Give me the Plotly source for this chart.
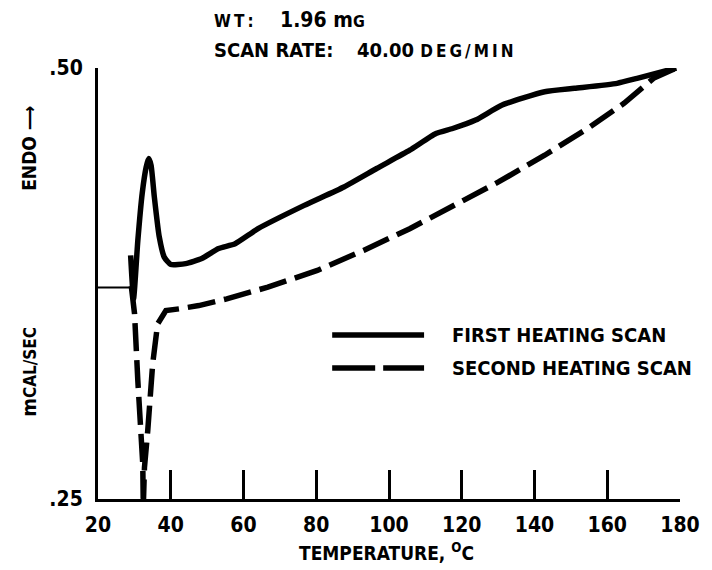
import plotly.graph_objects as go

# ---- data ----
first_T = [28.97, 29.78, 30.95, 32.15, 33.23, 33.94, 34.59, 35.49, 36.85, 38.21, 40.03,
           44.10, 48.53, 53.15, 57.7, 64.0, 76.7, 87.6, 96.6, 105.7, 112.9, 117.5,
           123.8, 131.1, 142.8, 151.0, 162.7, 168.2, 179.0]
first_y = [0.3913, 0.3663, 0.4000, 0.4273, 0.4424, 0.4475, 0.4436, 0.4252, 0.4019, 0.3903, 0.3860,
           0.3865, 0.3895, 0.3953, 0.3981, 0.4068, 0.4203, 0.4310, 0.4417, 0.4523, 0.4620, 0.4649,
           0.4698, 0.4785, 0.4862, 0.4882, 0.4911, 0.4940, 0.5000]

second_T = [29.16, 30.05, 30.95, 31.88, 32.31, 32.45, 32.77, 33.67, 35.03, 36.39, 38.67,
            42.28, 47.72, 55.4, 66.7, 80.3, 93.0, 105.7, 117.5, 130.1, 142.8, 154.6,
            164.6, 172.7, 179.0]
second_y = [0.3734, 0.3574, 0.3186, 0.2895, 0.2701, 0.2450, 0.2682, 0.2895, 0.3283, 0.3516, 0.3593,
            0.3603, 0.3622, 0.3661, 0.3729, 0.3826, 0.3942, 0.4068, 0.4203, 0.4339, 0.4494, 0.4649,
            0.4795, 0.4940, 0.5000]

baseline_T = [20.0, 29.0]
baseline_y = [0.3727, 0.3727]

x_ticks = [20, 40, 60, 80, 100, 120, 140, 160, 180]
y_ticks = [0.25, 0.50]
y_ticktext = [".25", ".50"]

series_names = ["FIRST HEATING SCAN", "SECOND HEATING SCAN"]

FONT = "DejaVu Sans Condensed"
W = "bold"
TS = "\u2009"  # thin space for the letter-spaced small caps

fig = go.Figure()
fig.add_trace(go.Scatter(x=baseline_T, y=baseline_y, mode="lines",
                         line=dict(color="black", width=2), showlegend=False, hoverinfo="skip"))
fig.add_trace(go.Scatter(x=first_T, y=first_y, mode="lines", name=series_names[0],
                         line=dict(color="black", width=5.5, shape="spline", smoothing=0.5),
                         showlegend=False))
fig.add_trace(go.Scatter(x=second_T, y=second_y, mode="lines", name=series_names[1],
                         line=dict(color="black", width=5.5, dash="28px,9px"), showlegend=False))

fig.update_layout(
    width=712, height=570,
    margin=dict(l=98, r=25, t=68, b=71),
    paper_bgcolor="white", plot_bgcolor="white",
    font=dict(family=FONT, color="black", size=20, weight=W),
    showlegend=False,
)
fig.update_xaxes(range=[20, 180], showline=True, linewidth=3, linecolor="black",
                 ticks="inside", ticklen=29, tickwidth=3, tickcolor="black",
                 tickvals=x_ticks, showgrid=False, zeroline=False,
                 tickfont=dict(size=21, family=FONT, weight=W), ticklabelstandoff=5)
fig.update_yaxes(range=[0.25, 0.50], showline=True, linewidth=3, linecolor="black",
                 ticks="inside", ticklen=31, tickwidth=2, tickcolor="black",
                 tickvals=y_ticks, ticktext=y_ticktext, showgrid=False, zeroline=False,
                 tickfont=dict(size=21, family=FONT, weight=W), ticklabelstandoff=8)

L, R, T, B = 98, 687, 68, 499
def px(xp):
    return (xp - L) / (R - L)
def py(yp):
    return (B - yp) / (B - T)

ann = []
def add_text(text, xp, yp, size=20, xanchor="left", angle=0):
    ann.append(dict(text=text, x=px(xp), y=py(yp), xref="paper", yref="paper",
                    xanchor=xanchor, yanchor="middle", showarrow=False, textangle=angle,
                    font=dict(size=size, family=FONT, color="black", weight=W)))

add_text("W" + TS + "T" + TS + ":", 213, 21, size=17)
add_text("1.96 m<span style='font-size:16px'>G</span>", 280, 20, size=21)
add_text("SCAN RATE:", 213, 50, size=20)
add_text("40.00 <span style='font-size:17px'>" + TS.join("DEG/MIN") + "</span>", 358, 50, size=20)
add_text("ENDO \u27f6", 28, 148, size=19, xanchor="center", angle=-90)
add_text("m<span style='font-size:17px'>CAL/SEC</span>", 28, 372, size=20, xanchor="center", angle=-90)
add_text("TEMPERATURE, <sup>O</sup>C", 390, 552, size=19, xanchor="center")
add_text(series_names[0], 454, 335, size=20)
add_text(series_names[1], 454, 368, size=20)
fig.update_layout(annotations=ann)

# manual legend keys
fig.add_shape(type="line", xref="paper", yref="paper", x0=px(335), x1=px(428), y0=py(335), y1=py(335),
              line=dict(color="black", width=5.5))
fig.add_shape(type="line", xref="paper", yref="paper", x0=px(335), x1=px(428), y0=py(368), y1=py(368),
              line=dict(color="black", width=5.5, dash="43px,8px"))

fig.write_html("out.html", config={"displayModeBar": False},
               post_script="document.body.style.margin='0';")
